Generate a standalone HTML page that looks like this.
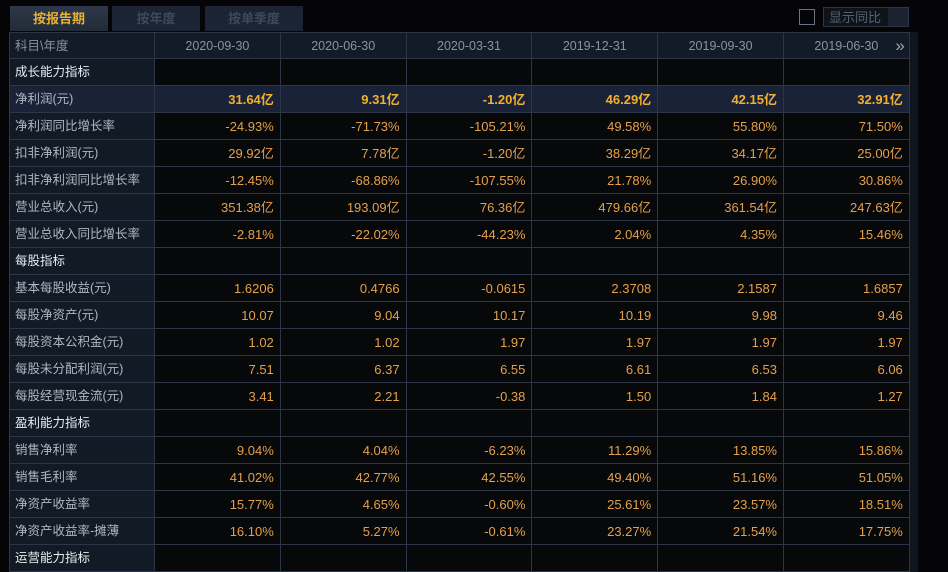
<!DOCTYPE html>
<html><head><meta charset="utf-8">
<style>
body{margin:0;background:#050507;width:948px;height:572px;overflow:hidden;position:relative;font-family:"Liberation Sans","Noto Sans CJK SC",sans-serif}
.tab{position:absolute;top:6px;height:25px;background:#1a2432;color:#3c4a5c;font-size:13px;text-align:center;line-height:25px;font-weight:bold}
.c{position:absolute;box-sizing:border-box;border-right:1px solid #2c3646;border-bottom:1px solid #2c3646;height:27px;line-height:27px;font-size:12.5px;white-space:nowrap}
.lab{background:#121a26;color:#aeb6c2;padding-left:5px;font-size:12.5px}
.val{background:#070809;color:#e6a04a;text-align:right;padding-right:6px;font-size:13px}
.hd{background:#131b27;color:#8793a6;text-align:center}
.sec{color:#e8ecf0}
</style></head><body>
<div class="tab" style="left:10px;width:98px;color:#e8b030;background:linear-gradient(#2e3848,#222b38)">按报告期</div>
<div class="tab" style="left:112px;width:88px">按年度</div>
<div class="tab" style="left:205px;width:98px">按单季度</div>
<div style="position:absolute;left:799px;top:9px;width:14px;height:14px;border:1px solid #6a7482;background:#050507"></div>
<div style="position:absolute;left:823px;top:7px;width:86px;height:20px;border:1px solid #2c3646;background:#10141a;color:#55606e;font-size:13px;line-height:20px;padding-left:5px;box-sizing:border-box">显示同比<span style="position:absolute;right:0;top:0;width:20px;height:18px;background:#1b2230"></span></div>
<div style="position:absolute;left:910px;top:32px;width:8px;height:540px;background:#0f141d"></div>
<div id="tbl"></div>
<script>
const dates=["2020-09-30","2020-06-30","2020-03-31","2019-12-31","2019-09-30","2019-06-30"];
const rows=[
["成长能力指标",null],
["净利润(元)",["31.64亿","9.31亿","-1.20亿","46.29亿","42.15亿","32.91亿"]],
["净利润同比增长率",["-24.93%","-71.73%","-105.21%","49.58%","55.80%","71.50%"]],
["扣非净利润(元)",["29.92亿","7.78亿","-1.20亿","38.29亿","34.17亿","25.00亿"]],
["扣非净利润同比增长率",["-12.45%","-68.86%","-107.55%","21.78%","26.90%","30.86%"]],
["营业总收入(元)",["351.38亿","193.09亿","76.36亿","479.66亿","361.54亿","247.63亿"]],
["营业总收入同比增长率",["-2.81%","-22.02%","-44.23%","2.04%","4.35%","15.46%"]],
["每股指标",null],
["基本每股收益(元)",["1.6206","0.4766","-0.0615","2.3708","2.1587","1.6857"]],
["每股净资产(元)",["10.07","9.04","10.17","10.19","9.98","9.46"]],
["每股资本公积金(元)",["1.02","1.02","1.97","1.97","1.97","1.97"]],
["每股未分配利润(元)",["7.51","6.37","6.55","6.61","6.53","6.06"]],
["每股经营现金流(元)",["3.41","2.21","-0.38","1.50","1.84","1.27"]],
["盈利能力指标",null],
["销售净利率",["9.04%","4.04%","-6.23%","11.29%","13.85%","15.86%"]],
["销售毛利率",["41.02%","42.77%","42.55%","49.40%","51.16%","51.05%"]],
["净资产收益率",["15.77%","4.65%","-0.60%","25.61%","23.57%","18.51%"]],
["净资产收益率-摊薄",["16.10%","5.27%","-0.61%","23.27%","21.54%","17.75%"]],
["运营能力指标",null]
];
const T=document.getElementById('tbl');
const X0=9,W0=146,CW=125.8,Y0=32,RH=27;
function cell(x,y,w,cls,txt,name){
 const d=document.createElement('div');
 d.className='c '+cls;
 d.style.left=x+'px';d.style.top=y+'px';d.style.width=w+'px';
 d.textContent=txt;
 
 
 T.appendChild(d);return d;
}
const h=cell(X0,Y0,W0,'lab hd','科目\\年度','header-subject');
h.style.textAlign='left';h.style.borderLeft='1px solid #2c3646';h.style.borderTop='1px solid #2c3646';
dates.forEach((d,i)=>{const c=cell(X0+W0+i*CW,Y0,CW,'hd',d,'header-date');c.style.borderTop='1px solid #2c3646';
 if(i==dates.length-1){const s=document.createElement('span');s.textContent='»';s.style.cssText='position:absolute;right:4px;top:0;font-size:17px;color:#9aa6b8;line-height:25px';
 
 
 c.appendChild(s);}});
rows.forEach((r,ri)=>{
 const y=Y0+RH*(ri+1);
 const l=cell(X0,y,W0,'lab'+(r[1]?'':' sec'),r[0],r[1]?'row-label':'section-title');
 l.style.borderLeft='1px solid #2c3646';
 if(ri==1)l.style.background='#1a2238';
 for(let i=0;i<6;i++){
  const v=cell(X0+W0+i*CW,y,CW,'val',r[1]?r[1][i]:'','value-cell');
  if(ri==1){v.style.background='#1a2238';v.style.color='#f0b030';v.style.fontWeight='bold';}
 }
});
</script>
</body></html>
